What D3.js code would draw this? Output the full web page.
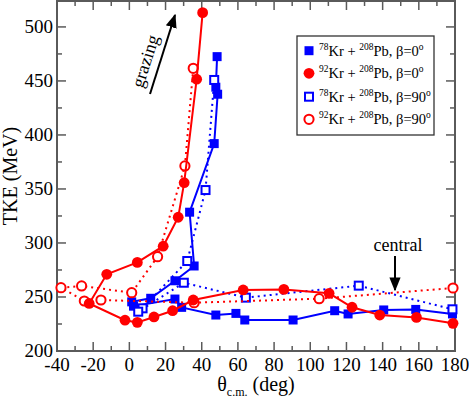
<!DOCTYPE html>
<html><head><meta charset="utf-8">
<script src="https://cdn.jsdelivr.net/npm/d3@7/dist/d3.min.js"></script>
<style>body{margin:0;background:#fff}svg{display:block}</style>
</head><body><svg id="c" width="469" height="398"></svg>
<script>
// ---- data ----
const xTickValues = [-40,-20,0,20,40,60,80,100,120,140,160,180];
const yTickValues = [200,250,300,350,400,450,500];

// 78Kr + 208Pb, beta=0 (filled blue squares, solid line)
const kr78b0Theta = [48.5,47.8,48.8,46.9,33.3,35.8,25.2,11.8,1.3,2.3,25.2,28.9,47.8,58.9,63.8,90.5,113.5,120.9,140.6,158.3,178.6];
const kr78b0TKE   = [472.5,444.2,437.7,392,328.5,278.7,265,248.8,245.5,241.5,248.1,240.4,233.3,234.8,228.7,228.7,237.3,234.3,238,238.5,234.3];

// 92Kr + 208Pb, beta=0 (filled red circles, solid line)
const kr92b0Theta = [40.5,37.2,30.3,27.0,18.7,4.4,-12.5,-22.2,-2.4,4.4,13.6,23.9,35.3,62.9,85.4,110.4,123.1,138.4,158.7,178.9];
const kr92b0TKE   = [513.2,451.6,355.8,323.8,297,282,271,244,228.5,226.5,231.5,237.3,247.2,256.5,257,253.4,240.5,233.3,231.1,225.6];

// 78Kr + 208Pb, beta=90 (open blue squares, dotted line)
const kr78b90Theta = [46.9,42.1,32.0,7.3,4.9,30.1,64.4,126.8,178.6];
const kr78b90TKE   = [450.9,349,283.3,239.5,236.4,263.2,249.4,260.5,238.6];

// 92Kr + 208Pb, beta=90 (open red circles, dotted line)
const kr92b90Theta = [35.3,30.7,15.6,1.3,-26.4,-37.8,-24.9,-15.7,35.8,104.9,178.9];
const kr92b90TKE   = [461.7,371.3,287.3,254,260.2,258.6,246.3,247.2,244.7,248.4,258.3];

const legendLabels = [
  [["78",1],["Kr + ",0],["208",1],["Pb, β=0",0],["o",1]],
  [["92",1],["Kr + ",0],["208",1],["Pb, β=0",0],["o",1]],
  [["78",1],["Kr + ",0],["208",1],["Pb, β=90",0],["o",1]],
  [["92",1],["Kr + ",0],["208",1],["Pb, β=90",0],["o",1]]
];

// ---- layout ----
const svg = d3.select("#c");
const L = 57, R = 455, T = 1, B = 351;
const x = d3.scaleLinear().domain([-40,180]).range([L,R]);
const y = d3.scaleLinear().domain([200,524]).range([B,T]);
const axisColor = "#5a5a5a";
const serif = "'Liberation Serif','Times New Roman',serif";
const BLUE = "#0000ff", RED = "#ff0000";

// ticks (inward, all four sides)
const xMinor = d3.range(-40,181,10), yMinor = d3.range(200,525,25);
const tg = svg.append("g").attr("stroke", axisColor).attr("stroke-width",1.5);
xMinor.forEach(v=>{
  const len = (v%20===0)?9:5;
  tg.append("line").attr("x1",x(v)).attr("x2",x(v)).attr("y1",B).attr("y2",B-len);
  tg.append("line").attr("x1",x(v)).attr("x2",x(v)).attr("y1",T).attr("y2",T+len);
});
yMinor.forEach(v=>{
  const len = (v%50===0)?9:5;
  tg.append("line").attr("y1",y(v)).attr("y2",y(v)).attr("x1",L).attr("x2",L+len);
  tg.append("line").attr("y1",y(v)).attr("y2",y(v)).attr("x1",R).attr("x2",R-len);
});
svg.append("rect").attr("x",L).attr("y",T).attr("width",R-L).attr("height",B-T)
  .attr("fill","none").attr("stroke",axisColor).attr("stroke-width",2);

// tick labels
svg.append("g").selectAll("text").data(xTickValues).join("text")
  .attr("x",d=>x(d)).attr("y",B+20).attr("text-anchor","middle")
  .attr("font-family",serif).attr("font-size",19).text(d=>d);
svg.append("g").selectAll("text").data(yTickValues).join("text")
  .attr("x",L-4).attr("y",d=>y(d)+6).attr("text-anchor","end")
  .attr("font-family",serif).attr("font-size",19).text(d=>d);

// axis titles
const xt = svg.append("text").attr("x",(L+R)/2).attr("y",391).attr("text-anchor","middle")
  .attr("font-family",serif).attr("font-size",20);
xt.append("tspan").text("θ");
xt.append("tspan").attr("font-size",12).attr("dy",5).text("c.m.");
xt.append("tspan").attr("dy",-5).text(" (deg)");
svg.append("text").attr("transform",`translate(17,${(T+B)/2}) rotate(-90)`)
  .attr("text-anchor","middle").attr("font-family",serif).attr("font-size",20).text("TKE (MeV)");

// series
function line(xs, ys, color, dashed){
  const pts = xs.map((v,i)=>[x(v), y(ys[i])]);
  svg.append("path").attr("d", d3.line()(pts)).attr("fill","none")
    .attr("stroke",color).attr("stroke-width",2)
    .attr("stroke-dasharray", dashed ? "2,4" : null);
  return pts;
}
function squares(pts, color, filled){
  const s = filled ? 9 : 8;
  svg.append("g").selectAll("rect").data(pts).join("rect")
    .attr("x",d=>d[0]-s/2).attr("y",d=>d[1]-s/2).attr("width",s).attr("height",s)
    .attr("fill", filled ? color : "#fff").attr("stroke", filled ? "none" : color)
    .attr("stroke-width",2);
}
function circles(pts, color, filled){
  svg.append("g").selectAll("circle").data(pts).join("circle")
    .attr("cx",d=>d[0]).attr("cy",d=>d[1]).attr("r", filled ? 5.4 : 4.6)
    .attr("fill", filled ? color : "#fff").attr("stroke", filled ? "none" : color)
    .attr("stroke-width",2);
}
squares(line(kr78b0Theta, kr78b0TKE, BLUE, false), BLUE, true);
squares(line(kr78b90Theta, kr78b90TKE, BLUE, true), BLUE, false);
circles(line(kr92b90Theta, kr92b90TKE, RED, true), RED, false);
circles(line(kr92b0Theta, kr92b0TKE, RED, false), RED, true);

// legend
const lg = svg.append("g");
lg.append("rect").attr("x",297).attr("y",36).attr("width",137).attr("height",99)
  .attr("fill","#fff").attr("stroke","#333").attr("stroke-width",1.3);
const rowsY = [50.7,73.3,96.7,119.3];
const mk = [["sq",1],["ci",1],["sq",0],["ci",0]];
const cols = [BLUE,RED,BLUE,RED];
rowsY.forEach((ry,i)=>{
  const c = cols[i];
  if(mk[i][0]==="sq"){
    const s = mk[i][1]?9:8;
    lg.append("rect").attr("x",309-s/2).attr("y",ry-s/2).attr("width",s).attr("height",s)
      .attr("fill",mk[i][1]?c:"#fff").attr("stroke",mk[i][1]?"none":c).attr("stroke-width",2);
  } else {
    lg.append("circle").attr("cx",309).attr("cy",ry).attr("r",mk[i][1]?5.4:4.6)
      .attr("fill",mk[i][1]?c:"#fff").attr("stroke",mk[i][1]?"none":c).attr("stroke-width",2);
  }
  const t = lg.append("text").attr("x",319).attr("y",ry+5).attr("font-family",serif).attr("font-size",14.5);
  let up = false;
  legendLabels[i].forEach(([s,sup])=>{
    const ts = t.append("tspan").text(s);
    if(sup){ ts.attr("font-size",9.5); if(!up){ts.attr("dy",-6); up=true;} }
    else { if(up){ts.attr("dy",6); up=false;} }
  });
});

// annotations
const defs = svg.append("defs");
defs.append("marker").attr("id","ah").attr("viewBox","0 0 10 10").attr("refX",9).attr("refY",5)
  .attr("markerWidth",7).attr("markerHeight",7).attr("orient","auto")
  .append("path").attr("d","M0,1 L10,5 L0,9 Z").attr("fill","#000");
svg.append("line").attr("x1",150).attr("y1",94).attr("x2",175).attr("y2",15)
  .attr("stroke","#000").attr("stroke-width",2).attr("marker-end","url(#ah)");
svg.append("text").attr("transform","translate(151,63) rotate(-72.4)")
  .attr("text-anchor","middle").attr("font-family",serif).attr("font-size",18).text("grazing");
svg.append("text").attr("x",398).attr("y",251).attr("text-anchor","middle")
  .attr("font-family",serif).attr("font-size",18).text("central");
svg.append("line").attr("x1",395).attr("y1",256).attr("x2",395).attr("y2",290)
  .attr("stroke","#000").attr("stroke-width",2).attr("marker-end","url(#ah)");
</script></body></html>
